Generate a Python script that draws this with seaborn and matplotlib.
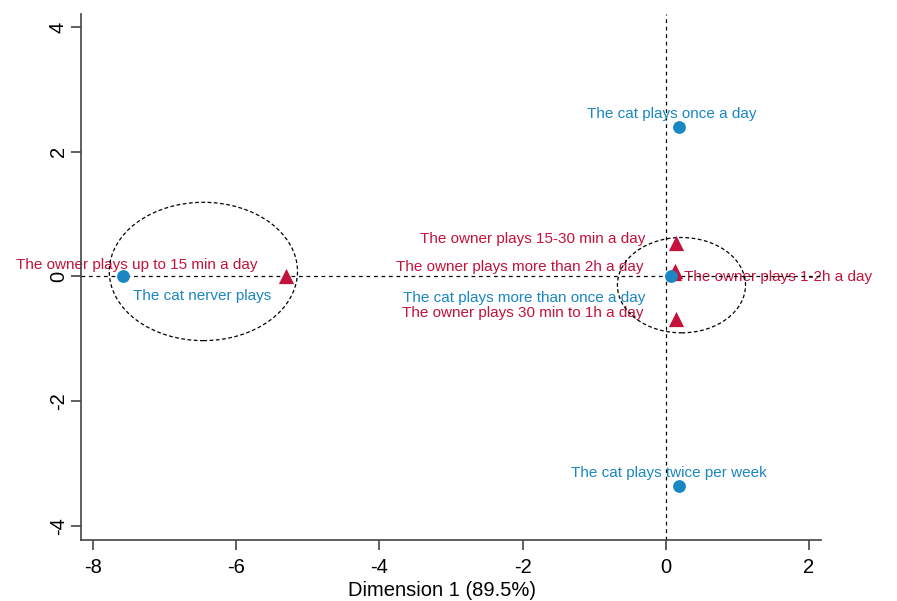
import matplotlib
matplotlib.use("Agg")
import matplotlib.pyplot as plt
from matplotlib.patches import Ellipse
import seaborn as sns
import pandas as pd

sns.set_theme(style="white")
plt.rcParams["font.family"] = ["Liberation Sans", "DejaVu Sans"]
plt.rcParams["axes.unicode_minus"] = False

# Row coordinates: how often the cat plays
cat_labels = [
    "The cat plays once a day",
    "The cat plays twice per week",
    "The cat nerver plays",
    "The cat plays more than once a day",
]
cat_dim1 = [0.18, 0.18, -7.58, 0.07]
cat_dim2 = [2.40, -3.36, 0.00, 0.01]

# Column coordinates: how long the owner plays
owner_labels = [
    "The owner plays up to 15 min a day",
    "The owner plays 15-30 min a day",
    "The owner plays more than 2h a day",
    "The owner plays 1-2h a day",
    "The owner plays 30 min to 1h a day",
]
owner_dim1 = [-5.31, 0.14, 0.13, 0.12, 0.14]
owner_dim2 = [0.01, 0.53, 0.09, 0.06, -0.68]

BLUE = "#1a86c2"
RED = "#c4123a"

cats = pd.DataFrame({"label": cat_labels, "d1": cat_dim1, "d2": cat_dim2})
owners = pd.DataFrame({"label": owner_labels, "d1": owner_dim1, "d2": owner_dim2})

fig = plt.figure(figsize=(8.97, 6.01), dpi=100)
ax = fig.add_axes([0.0903, 0.1015, 0.825, 0.876])

# reference lines through the origin
ax.axhline(0, color="black", lw=0.9, ls=(0, (3, 3)), zorder=1)
ax.axvline(0, color="black", lw=0.9, ls=(0, (3, 3)), zorder=1)

# cluster ellipses
for (cx, cy, w, h) in [(-6.46, 0.08, 2.63, 2.22), (0.22, -0.14, 1.79, 1.53)]:
    ax.add_patch(Ellipse((cx, cy), w, h, fill=False, ec="black", lw=0.9,
                         ls=(0, (3, 2)), zorder=2))

sns.scatterplot(data=owners, x="d1", y="d2", marker="^", s=120, color=RED,
                edgecolor=RED, linewidth=0, ax=ax, zorder=3, legend=False)
sns.scatterplot(data=cats, x="d1", y="d2", marker="o", s=85, color=BLUE,
                edgecolor=BLUE, linewidth=0, ax=ax, zorder=4, legend=False)

# label placement: (dx, dy) in points, ha, va
cat_pos = [(-5, 4, "center", "bottom"), (-7, 4, "center", "bottom"),
           (7, -9, "left", "top"), (-18, -11, "right", "top")]
owner_pos = [(-20, 3, "right", "bottom"), (-22, -2, "right", "bottom"),
             (-23, -2, "right", "bottom"), (7, -3, "left", "center"),
             (-23, -1, "right", "bottom")]

fs = 11
for (lab, x, y), (dx, dy, ha, va) in zip(zip(cat_labels, cat_dim1, cat_dim2), cat_pos):
    ax.annotate(lab, (x, y), xytext=(dx, dy), textcoords="offset points",
                ha=ha, va=va, color=BLUE, fontsize=fs, zorder=5)
for (lab, x, y), (dx, dy, ha, va) in zip(zip(owner_labels, owner_dim1, owner_dim2), owner_pos):
    ax.annotate(lab, (x, y), xytext=(dx, dy), textcoords="offset points",
                ha=ha, va=va, color=RED, fontsize=fs, zorder=0)

ax.set_xlim(-8.17, 2.17)
ax.set_ylim(-4.23, 4.22)
ax.set_xticks([-8, -6, -4, -2, 0, 2])
ax.set_yticks([-4, -2, 0, 2, 4])
ax.set_xlabel("Dimension 1 (89.5%)", fontsize=14.5, color="black")
ax.xaxis.set_label_coords(0.488, -0.077)
ax.set_ylabel("")
ax.tick_params(axis="both", direction="out", length=7, width=1.2,
               color="#444444", labelsize=14.5, labelcolor="black",
               bottom=True, left=True)
ax.tick_params(axis="x", pad=6)
ax.tick_params(axis="y", pad=2.5)
plt.setp(ax.get_yticklabels(), rotation=90, va="center")

for side in ["top", "right"]:
    ax.spines[side].set_visible(False)
for side in ["left", "bottom"]:
    ax.spines[side].set_color("#444444")
    ax.spines[side].set_linewidth(1.2)

fig.savefig("out.png", dpi=100)
